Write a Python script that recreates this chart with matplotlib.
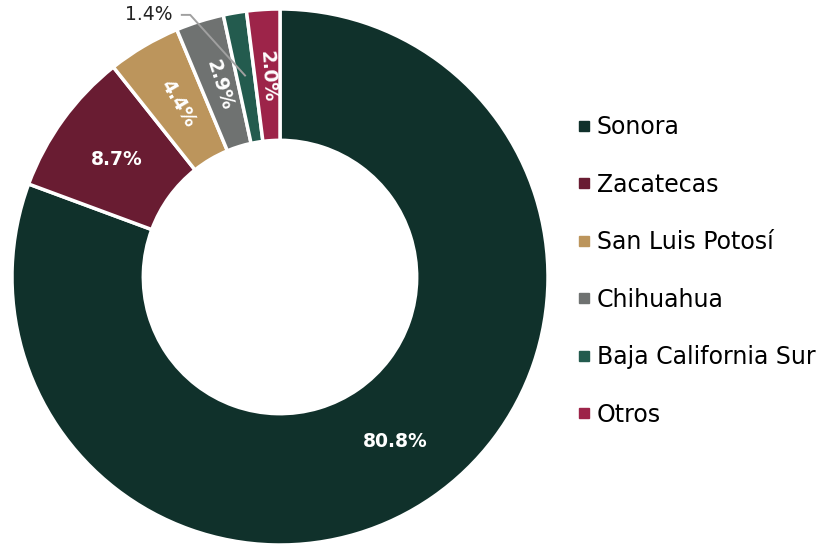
import matplotlib.pyplot as plt
import numpy as np

# Data
estados = ["Sonora", "Zacatecas", "San Luis Potosí", "Chihuahua", "Baja California Sur", "Otros"]
porcentajes = [80.8, 8.7, 4.4, 2.9, 1.4, 2.0]
colores = ["#10312B", "#691C32", "#BC955C", "#6F7271", "#235B4E", "#9D2449"]

plt.rcParams['font.family'] = ['DejaVu Sans']

fig = plt.figure(figsize=(8.21, 5.45), dpi=100)
ax = fig.add_axes([0.0146, 0.0, 0.6529, 0.9835])

wedges, _ = ax.pie(porcentajes, colors=colores, startangle=90, counterclock=False,
                   radius=1.0, wedgeprops=dict(width=0.49, edgecolor='white', linewidth=2.5))
ax.set_xlim(-1, 1)
ax.set_ylim(-1, 1)
ax.set_aspect('equal')
ax.axis('off')

# Labels inside the ring
for w, val in zip(wedges, porcentajes):
    ang = (w.theta1 + w.theta2) / 2
    c, s = np.cos(np.deg2rad(ang)), np.sin(np.deg2rad(ang))
    txt = f"{val:.1f}%"
    if val >= 5:
        ax.text(0.75 * c, 0.75 * s, txt, ha='center', va='center', color='white',
                fontsize=13.5, fontweight='bold')
    elif val >= 2:
        ax.text(0.75 * c, 0.75 * s, txt, ha='center', va='center', color='white', fontsize=13.5,
                fontweight='bold', rotation=ang - 180, rotation_mode='anchor')
    else:
        # small slice: label outside with a leader line
        tx, ty = -0.49, 0.978
        ax.text(tx, ty, txt, ha='center', va='center', color='#222222', fontsize=13.5)
        kx = tx + 0.155
        ax.plot([tx + 0.12, kx, 0.76 * c], [ty, ty, 0.76 * s], color='#a0a0a0', lw=1.4,
                solid_capstyle='butt')

# Legend
handles = [plt.Line2D([], [], marker='s', linestyle='', markersize=7.5, color=c) for c in colores]
fig.legend(handles, estados, loc='center left', bbox_to_anchor=(0.675, 0.503), frameon=False,
           fontsize=17, labelspacing=1.42, handletextpad=0.2, handlelength=0.7)

plt.savefig("out.png", dpi=100)
